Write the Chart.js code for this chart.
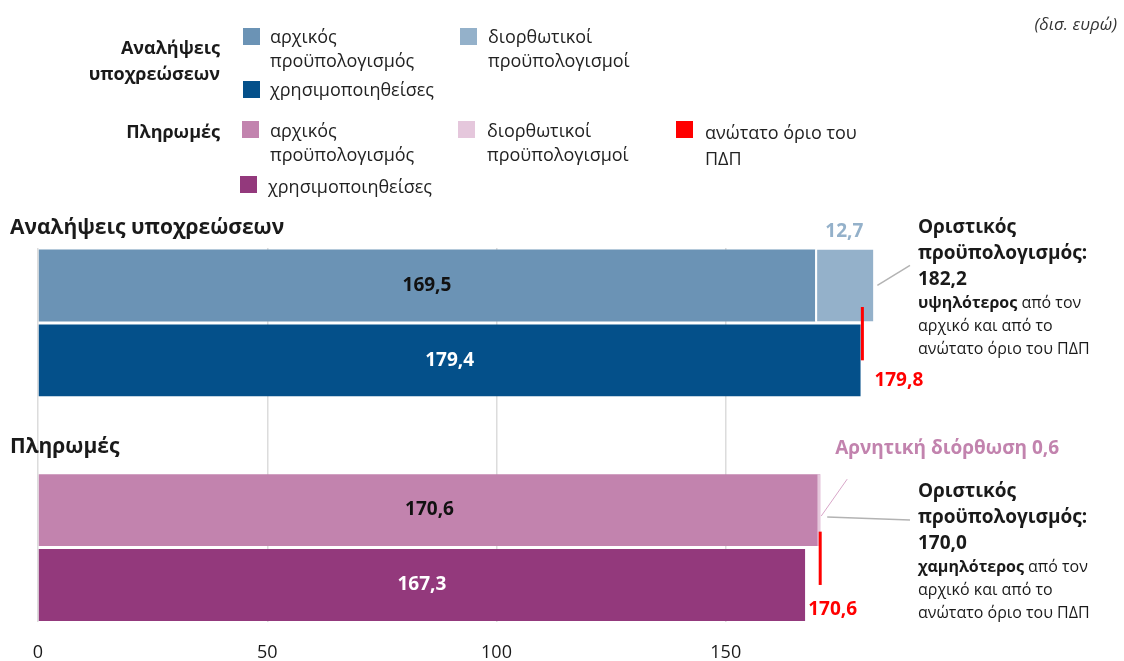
<!DOCTYPE html>
<html lang="el">
<head>
<meta charset="utf-8">
<script src="https://cdn.jsdelivr.net/npm/chart.js@4.4.1/dist/chart.umd.min.js"></script>
<style>
  html, body { margin: 0; padding: 0; background: #fff; }
  body { width: 1124px; height: 661px; position: relative; overflow: hidden; font-family: "Open Sans", sans-serif; color: #1a1a1a; }
  #chart { position: absolute; left: 0; top: 0; }
  .abs { position: absolute; white-space: nowrap; }
  .grp { font-weight: 700; font-size: 18px; line-height: 26px; text-align: right; }
  .box { position: absolute; width: 17px; height: 17px; }
  .item { font-size: 18px; line-height: 24px; color: #222; }
  .unit { font-style: italic; font-size: 17px; color: #333; }
  .head { font-weight: 700; font-size: 21px; }
  .note b.big { display: block; font-size: 19px; line-height: 26px; }
  .note .small { display: block; font-size: 16px; line-height: 23px; }
</style>
</head>
<body>
<canvas id="chart" width="1124" height="661"></canvas>

<div class="abs unit" style="right:7px; top:12px;">(δισ. ευρώ)</div>

<!-- legend -->
<div class="abs grp" style="right:904px; top:34px;">Αναλήψεις<br>υποχρεώσεων</div>
<div class="box" style="left:243px; top:28px; background:#6b93b5;"></div>
<div class="abs item" style="left:270px; top:24px;">αρχικός<br>προϋπολογισμός</div>
<div class="box" style="left:460px; top:28px; background:#94b1ca;"></div>
<div class="abs item" style="left:488px; top:24px;">διορθωτικοί<br>προϋπολογισμοί</div>
<div class="box" style="left:243px; top:81px; background:#04508a;"></div>
<div class="abs item" style="left:270px; top:77px;">χρησιμοποιηθείσες</div>

<div class="abs grp" style="right:904px; top:118px;">Πληρωμές</div>
<div class="box" style="left:242px; top:121px; background:#c283ae;"></div>
<div class="abs item" style="left:270px; top:118px;">αρχικός<br>προϋπολογισμός</div>
<div class="box" style="left:458px; top:121px; background:#e5c7dc;"></div>
<div class="abs item" style="left:487px; top:118px;">διορθωτικοί<br>προϋπολογισμοί</div>
<div class="box" style="left:676px; top:121px; background:#ff0000;"></div>
<div class="abs item" style="left:705px; top:119px; line-height:26px;">ανώτατο όριο του<br>ΠΔΠ</div>
<div class="box" style="left:240px; top:176px; background:#93397c;"></div>
<div class="abs item" style="left:268px; top:174px;">χρησιμοποιηθείσες</div>

<!-- group headers -->
<div class="abs head" style="left:10px; top:212px;">Αναλήψεις υποχρεώσεων</div>
<div class="abs head" style="left:10px; top:431px;">Πληρωμές</div>

<!-- side notes -->
<div class="abs note" style="left:918px; top:213px;">
  <b class="big">Οριστικός</b><b class="big">προϋπολογισμός:</b><b class="big">182,2</b>
  <span class="small"><b>υψηλότερος</b> από τον</span><span class="small">αρχικό και από το</span><span class="small">ανώτατο όριο του ΠΔΠ</span>
</div>
<div class="abs note" style="left:918px; top:477px;">
  <b class="big">Οριστικός</b><b class="big">προϋπολογισμός:</b><b class="big">170,0</b>
  <span class="small"><b>χαμηλότερος</b> από τον</span><span class="small">αρχικό και από το</span><span class="small">ανώτατο όριο του ΠΔΠ</span>
</div>

<script>
// Rows: initial / used for commitments, a spacer, then initial / used for payments.
var rows = ['Αναλήψεις αρχικός', 'Αναλήψεις χρησιμοποιηθείσες', '', 'Πληρωμές αρχικός', 'Πληρωμές χρησιμοποιηθείσες'];
var baseValues = [169.5, 179.4, null, 170.6, 167.3];
var corrections = [12.7, null, null, -0.6, null];
var limitValues = [179.8, 170.6];
var limitRows = [[0, 1], [3, 4]];
var xTicks = [0, 50, 100, 150];

var baseColors = ['#6b93b5', '#04508a', 'rgba(0,0,0,0)', '#c283ae', '#93397c'];
var corrColors = ['#94b1ca', 'rgba(0,0,0,0)', 'rgba(0,0,0,0)', '#e5c7dc', 'rgba(0,0,0,0)'];
var labelColors = ['#111', '#fff', '#fff', '#111', '#fff'];

function fmt(v) {
  return Math.abs(v).toFixed(1).replace('.', ',');
}

// Corrections are drawn as floating bars at the end of the initial budget.
var correctionRanges = corrections.map(function (c, i) {
  if (c === null) return null;
  return c > 0 ? [baseValues[i], baseValues[i] + c] : [baseValues[i] + c, baseValues[i]];
});

var annotations = {
  id: 'annotations',
  afterDatasetsDraw: function (chart) {
    var ctx = chart.ctx;
    var xScale = chart.scales.x;
    var corr = chart.getDatasetMeta(0).data;
    var base = chart.getDatasetMeta(1).data;

    ctx.save();
    ctx.textBaseline = 'middle';
    ctx.font = 'bold 19px "Open Sans"';

    // Values inside the bars.
    ctx.textAlign = 'center';
    base.forEach(function (bar, i) {
      if (baseValues[i] === null) return;
      ctx.fillStyle = labelColors[i];
      ctx.fillText(fmt(baseValues[i]), (bar.base + bar.x) / 2, bar.y);
    });

    // Positive correction: value above the segment.
    var c0 = corr[0];
    ctx.fillStyle = '#94b1ca';
    ctx.fillText(fmt(corrections[0]), (c0.base + c0.x) / 2, c0.y - c0.height / 2 - 18);

    // Leader to the note.
    ctx.strokeStyle = '#b3b3b3';
    ctx.lineWidth = 1.5;
    ctx.beginPath();
    ctx.moveTo(c0.x + 4, c0.y);
    ctx.lineTo(910, c0.y - 20);
    ctx.stroke();

    // Negative correction on payments.
    var c3 = corr[3];
    var right3 = Math.max(c3.x, c3.base);
    ctx.beginPath();
    ctx.moveTo(right3 + 7, c3.y + 7);
    ctx.lineTo(910, c3.y + 10);
    ctx.stroke();

    ctx.strokeStyle = '#d8a6c8';
    ctx.lineWidth = 1;
    ctx.beginPath();
    ctx.moveTo(right3 + 1, c3.y + 6);
    ctx.lineTo(right3 + 27, c3.y - c3.height / 2 + 5);
    ctx.stroke();

    ctx.textAlign = 'left';
    ctx.fillStyle = '#c283ae';
    ctx.fillText('Αρνητική διόρθωση ' + fmt(corrections[3]), right3 + 15, c3.y - c3.height / 2 - 26);

    // Upper limits of the medium-term fiscal strategy.
    limitValues.forEach(function (v, k) {
      var upper = base[limitRows[k][0]];
      var lower = base[limitRows[k][1]];
      var px = xScale.getPixelForValue(v);
      ctx.strokeStyle = '#ff0000';
      ctx.lineWidth = 3;
      ctx.beginPath();
      ctx.moveTo(px, upper.y + upper.height * 0.3);
      ctx.lineTo(px, lower.y);
      ctx.stroke();

      ctx.fillStyle = '#ff0000';
      ctx.textAlign = 'left';
      if (k === 0) {
        ctx.fillText(fmt(v), px + 12, lower.y + 20);
      } else {
        ctx.fillText(fmt(v), px - 12, lower.y + 25);
      }
    });
    ctx.restore();
  }
};

new Chart(document.getElementById('chart'), {
  type: 'bar',
  data: {
    labels: rows,
    datasets: [
      {
        label: 'διορθωτικοί προϋπολογισμοί',
        data: correctionRanges,
        backgroundColor: corrColors,
        borderColor: '#ffffff',
        borderWidth: function (c) {
          return corrections[c.dataIndex] > 0 ? { left: 2, top: 0, right: 0, bottom: 0 } : 0;
        },
        borderSkipped: false,
        grouped: false,
        barPercentage: 0.96,
        categoryPercentage: 1
      },
      {
        label: 'αρχικός / χρησιμοποιηθείσες',
        data: baseValues,
        backgroundColor: baseColors,
        borderWidth: 0,
        grouped: false,
        barPercentage: 0.96,
        categoryPercentage: 1
      }
    ]
  },
  options: {
    indexAxis: 'y',
    responsive: false,
    animation: false,
    layout: {
      padding: { top: 248, left: 38, right: 169, bottom: -23 }
    },
    scales: {
      x: {
        min: 0,
        max: 200,
        afterBuildTicks: function (scale) {
          scale.ticks = xTicks.map(function (v) { return { value: v }; });
        },
        ticks: {
          padding: 20,
          color: '#1a1a1a',
          font: { family: 'Open Sans', size: 18 }
        },
        grid: { color: '#dcdcdc', drawTicks: false, lineWidth: 1.5 },
        border: { display: false }
      },
      y: { display: false }
    },
    plugins: {
      legend: { display: false },
      tooltip: { enabled: false }
    }
  },
  plugins: [annotations]
});
</script>
</body>
</html>
